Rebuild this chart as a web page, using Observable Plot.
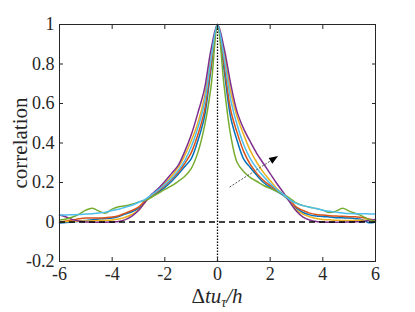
<!DOCTYPE html>
<html><head><meta charset="utf-8">
<script src="https://cdn.jsdelivr.net/npm/d3@7"></script>
<script src="https://cdn.jsdelivr.net/npm/@observablehq/plot@0.6"></script>
<style>
body{margin:0;background:#fff}
</style>
</head><body><div id="chart"></div>
<script>
const lags = [-6,-5.75,-5.5,-5.25,-5,-4.75,-4.5,-4.25,-4,-3.75,-3.5,-3.25,-3,-2.75,-2.5,-2.25,-2,-1.75,-1.5,-1.25,-1,-0.75,-0.5,-0.25,0,
  0.25,0.5,0.75,1,1.25,1.5,1.75,2,2.25,2.5,2.75,3,3.25,3.5,3.75,4,4.25,4.5,4.75,5,5.25,5.5,5.75,6];
const blue = [-0.005,-0.003,0.0,0.004,0.008,0.012,0.015,0.018,0.02,0.028,0.04,0.052,0.07,0.105,0.13,0.15,0.175,0.205,0.24,0.28,0.32,0.41,0.53,0.77,1,
  0.77,0.53,0.41,0.317,0.275,0.235,0.2,0.175,0.155,0.135,0.105,0.07,0.048,0.036,0.03,0.028,0.025,0.022,0.021,0.02,0.017,0.012,-0.004,0.0];
const orange = [0.0,0.005,0.01,0.016,0.02,0.02,0.02,0.022,0.025,0.032,0.045,0.058,0.075,0.108,0.135,0.158,0.185,0.215,0.25,0.295,0.35,0.44,0.56,0.79,1,
  0.8,0.567,0.45,0.355,0.29,0.245,0.21,0.185,0.16,0.14,0.112,0.075,0.058,0.045,0.038,0.035,0.032,0.03,0.029,0.027,0.026,0.023,0.015,0.01];
const yellow = [0.0,0.002,0.003,0.004,0.005,0.006,0.007,0.008,0.01,0.015,0.024,0.038,0.06,0.1,0.135,0.165,0.195,0.232,0.275,0.335,0.41,0.5,0.63,0.83,1,
  0.86,0.66,0.53,0.44,0.36,0.3,0.25,0.21,0.17,0.14,0.105,0.06,0.04,0.027,0.018,0.013,0.011,0.009,0.008,0.008,0.008,0.009,0.01,0.01];
const purple = [0.035,0.025,0.012,0.004,0.0,-0.001,-0.001,-0.001,0.0,0.003,0.012,0.03,0.058,0.1,0.14,0.17,0.205,0.245,0.285,0.355,0.44,0.55,0.67,0.87,1,
  0.88,0.7,0.555,0.47,0.405,0.345,0.295,0.245,0.195,0.15,0.1,0.055,0.025,0.01,0.002,0.0,-0.001,-0.001,-0.001,0.0,0.001,0.003,0.008,0.013];
const green = [0.01,0.015,0.025,0.04,0.06,0.069,0.055,0.045,0.065,0.077,0.082,0.09,0.1,0.11,0.125,0.145,0.165,0.183,0.205,0.23,0.27,0.35,0.48,0.68,1,
  0.69,0.44,0.3,0.255,0.225,0.205,0.185,0.17,0.155,0.14,0.12,0.095,0.083,0.075,0.068,0.06,0.048,0.055,0.069,0.055,0.043,0.03,0.012,0.003];
const cyan = [0.035,0.036,0.037,0.038,0.04,0.042,0.045,0.05,0.058,0.065,0.075,0.085,0.1,0.115,0.138,0.163,0.19,0.22,0.26,0.31,0.38,0.475,0.6,0.82,1,
  0.83,0.62,0.49,0.39,0.32,0.27,0.23,0.195,0.165,0.14,0.112,0.094,0.083,0.075,0.068,0.06,0.054,0.05,0.046,0.043,0.042,0.042,0.041,0.04];

const seriesNames = ["s1","s2","s3","s4","s5","s6"];
const seriesValues = [blue, orange, yellow, purple, green, cyan];
const colors = ["#0072BD","#D95319","#EDB120","#7E2F8E","#77AC30","#4DBEEE"];
const xTicks = [-6,-4,-2,0,2,4,6];
const yTicks = [-0.2,0,0.2,0.4,0.6,0.8,1];
const arrowFrom = [0.46, 0.177];
const arrowTo = [2.3, 0.334];

const W = 415, H = 312, mL = 59, mR = 40, mT = 24, mB = 51;
const FONT = '"Liberation Serif", "Times New Roman", "DejaVu Serif", serif';
const rows = seriesNames.flatMap((s, i) => lags.map((x, j) => ({x, y: seriesValues[i][j], s})));

// arrowhead: custom symbol whose tip is at the origin, pointing along +x
const kx = (W - mL - mR) / 12, ky = (H - mT - mB) / 1.2;
const dxp = (arrowTo[0] - arrowFrom[0]) * kx, dyp = -(arrowTo[1] - arrowFrom[1]) * ky;
const angle = Math.atan2(dyp, dxp) * 180 / Math.PI;
const headSymbol = {
  draw(context, size) {
    const L = 9, w = 3.4;
    context.moveTo(0, 0);
    context.lineTo(-L, -w);
    context.lineTo(-L, w);
    context.closePath();
  }
};
const shaftEnd = {x: arrowTo[0] - (dxp / Math.hypot(dxp, dyp)) * 6 / kx, y: arrowTo[1] + (dyp / Math.hypot(dxp, dyp)) * 6 / ky};

const fmt = d => String(d);
const plot = Plot.plot({
  width: W, height: H,
  marginLeft: mL, marginRight: mR, marginTop: mT, marginBottom: mB,
  style: {fontFamily: FONT, fontSize: "18px", color: "#262626", background: "#fff"},
  x: {domain: [-6, 6]},
  y: {domain: [-0.2, 1]},
  color: {domain: seriesNames, range: colors},
  marks: [
    Plot.line(rows, {x: "x", y: "y", z: "s", stroke: "s", strokeWidth: 1.5, curve: "catmull-rom"}),
    Plot.ruleY([0], {stroke: "black", strokeWidth: 1.5, strokeDasharray: "6,4"}),
    Plot.ruleX([0], {y1: -0.2, y2: 1, stroke: "black", strokeWidth: 1.3, strokeDasharray: "1.5,1.5"}),
    Plot.link([{x1: arrowFrom[0], y1: arrowFrom[1], x2: shaftEnd.x, y2: shaftEnd.y}],
      {x1: "x1", y1: "y1", x2: "x2", y2: "y2", stroke: "#555", strokeWidth: 1, strokeDasharray: "2,1.5"}),
    Plot.dot([{x: arrowTo[0], y: arrowTo[1]}], {x: "x", y: "y", symbol: headSymbol, r: 4, fill: "black", stroke: "none", rotate: angle}),
    Plot.frame({stroke: "#262626", strokeWidth: 1}),
    Plot.axisX({ticks: xTicks, tickSize: -4, tickPadding: 10, tickFormat: fmt, label: null, fontSize: 18}),
    Plot.axisX({anchor: "top", ticks: xTicks, tickSize: -4, tickFormat: () => "", label: null}),
    Plot.axisY({ticks: yTicks, tickSize: -4, tickPadding: 9, tickFormat: fmt, label: null, fontSize: 18}),
    Plot.axisY({anchor: "right", ticks: yTicks, tickSize: -4, tickFormat: () => "", label: null})
  ]
});
document.getElementById("chart").appendChild(plot);

const svg = d3.select(plot);
svg.append("text")
  .attr("transform", "translate(22,143) rotate(-90)")
  .attr("text-anchor", "middle")
  .attr("dominant-baseline", "middle")
  .attr("font-size", 21)
  .attr("fill", "#262626")
  .text("correlation");
const xl = svg.append("text")
  .attr("x", 217).attr("y", 303)
  .attr("text-anchor", "middle")
  .attr("font-size", 21)
  .attr("fill", "#262626");
xl.append("tspan").text("Δ");
xl.append("tspan").attr("font-style", "italic").text("tu");
xl.append("tspan").attr("font-style", "italic").attr("font-size", 14).attr("dy", 4).text("τ");
xl.append("tspan").attr("font-style", "italic").attr("dy", -4).text("/h");
</script>
</body></html>
